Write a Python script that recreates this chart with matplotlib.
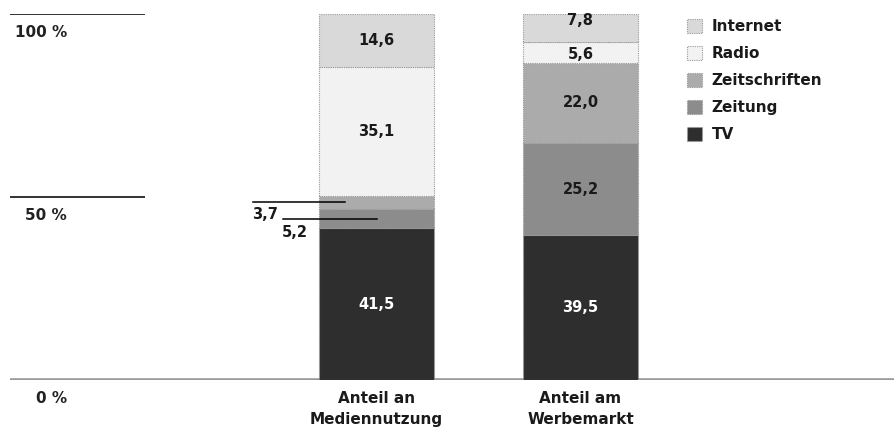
import matplotlib
matplotlib.use("Agg")
import matplotlib.pyplot as plt
from matplotlib.patches import Patch
import numpy as np

categories = ["Anteil an\nMediennutzung", "Anteil am\nWerbemarkt"]
series_names = ["TV", "Zeitung", "Zeitschriften", "Radio", "Internet"]
tv = [41.5, 39.5]
zeitung = [5.2, 25.2]
zeitschriften = [3.7, 22.0]
radio = [35.1, 5.6]
internet = [14.6, 7.8]
value_labels = [["41,5", "39,5"], ["5,2", "25,2"], ["3,7", "22,0"],
                ["35,1", "5,6"], ["14,6", "7,8"]]
ytick_values = [0, 50, 100]
ytick_labels = ["0 %", "50 %", "100 %"]

colors = ["#2e2e2e", "#8c8c8c", "#ababab", "#f2f2f2", "#d9d9d9"]
text_colors = ["white", "#1a1a1a", "#1a1a1a", "#1a1a1a", "#1a1a1a"]

W, H = 894, 434
fig = plt.figure(figsize=(W / 100, H / 100), dpi=100)
base_px, top_px = 380, 14
ax = fig.add_axes([0, (H - base_px) / H, 1, (base_px - top_px) / H])
ax.set_ylim(0, 100)
ppu = 204.0
c0 = 376.5
ax.set_xlim(-c0 / ppu, (W - c0) / ppu)
ax.axis("off")

def px2x(p):
    return (p - c0) / ppu

x = np.arange(len(categories))
width = 115 / ppu
data = [tv, zeitung, zeitschriften, radio, internet]
bottom = np.zeros(len(categories))
mids = []
for vals, col in zip(data, colors):
    vals = np.array(vals)
    ax.bar(x, vals, width, bottom=bottom, color=col, edgecolor="#9a9a9a",
           linewidth=0.8, linestyle=(0, (1, 1)), zorder=2)
    mids.append(bottom + vals / 2)
    bottom = bottom + vals
mids = np.array(mids)

fs_val = 10.5
for si in range(len(data)):
    for ci in range(len(categories)):
        if ci == 0 and si in (1, 2):
            continue
        y = mids[si, ci]
        if ci == 1 and si == 3:
            y = mids[si, ci] - 0.6
        if ci == 1 and si == 4:
            y = mids[si, ci] + 2.0
        ax.text(x[ci], y, value_labels[si][ci], ha="center", va="center",
                fontsize=fs_val, fontweight="bold", color=text_colors[si],
                zorder=3)

y37 = mids[2, 0]
y52 = mids[1, 0]
ax.plot([px2x(253), px2x(345)], [y37, y37], color="black", lw=1.1, zorder=4)
ax.plot([px2x(283), px2x(377)], [y52, y52], color="black", lw=1.1, zorder=4)
ax.text(px2x(252), y37 - 1.4, value_labels[2][0], ha="left", va="top",
        fontsize=fs_val, fontweight="bold", color="#1a1a1a")
ax.text(px2x(282), y52 - 1.8, value_labels[1][0], ha="left", va="top",
        fontsize=fs_val, fontweight="bold", color="#1a1a1a")

for v, lab in zip(ytick_values, ytick_labels):
    if v == 0:
        ax.plot([px2x(10), px2x(894)], [v, v], color="#9a9a9a", lw=2.6,
                solid_capstyle="butt", zorder=1)
    else:
        ax.plot([px2x(10), px2x(145)], [v, v], color="#222222", lw=1.3,
                solid_capstyle="butt")
    ax.text(px2x(67), v - 2.9, lab, ha="right", va="top", fontsize=11,
            fontweight="bold", color="#222222", clip_on=False)

for ci, lab in enumerate(categories):
    ax.text(x[ci], -3.0, lab, ha="center", va="top", fontsize=11,
            fontweight="bold", color="#1a1a1a", linespacing=1.5,
            clip_on=False)

handles = [Patch(facecolor=colors[i], edgecolor="#9a9a9a", linewidth=0.8,
                 linestyle=(0, (1, 1)), label=series_names[i])
           for i in [4, 3, 2, 1, 0]]
leg = fig.legend(handles=handles, loc="upper left",
                 bbox_to_anchor=(687 / W, 1 - 19 / H), frameon=False,
                 prop={"size": 11, "weight": "bold"}, handlelength=1.0,
                 handleheight=1.0, handletextpad=0.6, labelspacing=0.78,
                 borderpad=0, borderaxespad=0)
for t in leg.get_texts():
    t.set_color("#1a1a1a")

fig.savefig("out.png", dpi=100, facecolor="white")
